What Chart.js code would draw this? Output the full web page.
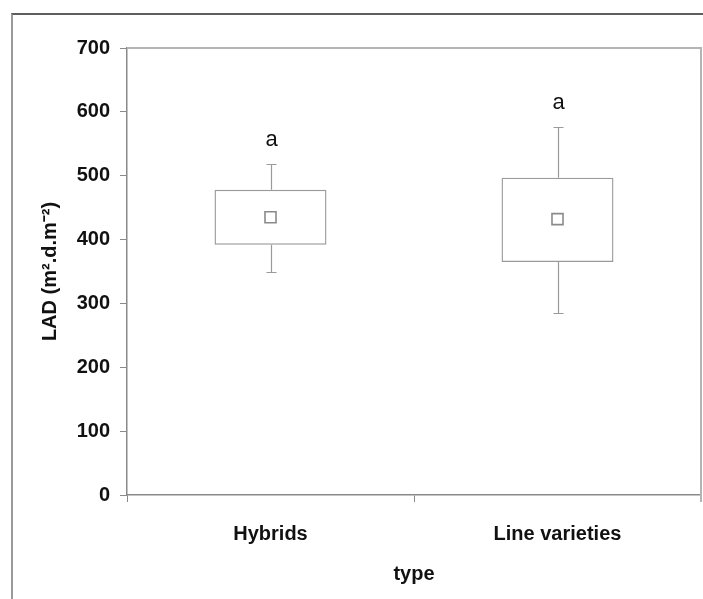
<!DOCTYPE html>
<html>
<head>
<meta charset="utf-8">
<script src="https://cdn.jsdelivr.net/npm/chart.js@4/dist/chart.umd.min.js"></script>
<style>
  html, body { margin: 0; padding: 0; background: #fff; }
  #wrap { position: relative; width: 703px; height: 599px; }
  #frame {
    position: absolute; left: 11px; top: 13px; right: -5px; bottom: -5px;
    border-left: 2px solid #9a9a9a; border-top: 2px solid #5e5e5e;
  }
  canvas { position: absolute; left: 0; top: 0; }
</style>
</head>
<body>
<div id="wrap">
  <div id="frame"></div>
  <canvas id="chart" width="703" height="599"></canvas>
</div>
<script>
// box plot values
const categories = ["Hybrids", "Line varieties"]
const minVals = [349, 285]
const q1Vals = [392, 365]
const meanVals = [435, 432]
const q3Vals = [478, 497]
const maxVals = [518, 577]
const letters = ["a", "a"]
const yTicks = [0, 100, 200, 300, 400, 500, 600, 700]

const gray = "#9a9a9a"
const axisGray = "#8a8a8a"
const font = "'Liberation Sans', Arial, sans-serif"

// whiskers, caps and significance letters
const whiskerPlugin = {
  id: "whiskers",
  afterDatasetsDraw(chart) {
    const ctx = chart.ctx
    const y = chart.scales.y
    const meta = chart.getDatasetMeta(0)
    ctx.save()
    ctx.strokeStyle = gray
    ctx.lineWidth = 1.2
    meta.data.forEach((bar, i) => {
      const x = Math.round(bar.x) + 0.5
      const segs = [[q3Vals[i], maxVals[i]], [q1Vals[i], minVals[i]]]
      segs.forEach(([from, to]) => {
        const y1 = y.getPixelForValue(from)
        const y2 = Math.round(y.getPixelForValue(to)) + 0.5
        ctx.beginPath()
        ctx.moveTo(x, y1)
        ctx.lineTo(x, y2)
        ctx.moveTo(x - 5, y2)
        ctx.lineTo(x + 5, y2)
        ctx.stroke()
      })
      ctx.fillStyle = "#111"
      ctx.font = "22px " + font
      ctx.textAlign = "center"
      ctx.textBaseline = "alphabetic"
      ctx.fillText(letters[i], x, y.getPixelForValue(maxVals[i]) - 18)
    })
    ctx.restore()
  }
}

// top and right edges of the plot area
const framePlugin = {
  id: "plotFrame",
  beforeDatasetsDraw(chart) {
    const { ctx, chartArea: a } = chart
    ctx.save()
    ctx.strokeStyle = "#b4b4b4"
    ctx.lineWidth = 2
    ctx.beginPath()
    ctx.moveTo(a.left, a.top)
    ctx.lineTo(a.right, a.top)
    ctx.lineTo(a.right, a.bottom + 7)
    ctx.stroke()
    ctx.restore()
  }
}

new Chart(document.getElementById("chart"), {
  data: {
    labels: categories,
    datasets: [
      {
        type: "bar",
        order: 2,
        data: q1Vals.map((q, i) => [q, q3Vals[i]]),
        backgroundColor: "#fff",
        borderColor: gray,
        borderWidth: 1.4,
        borderSkipped: false,
        categoryPercentage: 1,
        barPercentage: 0.39
      },
      {
        type: "line",
        order: 1,
        data: meanVals,
        showLine: false,
        pointStyle: "rect",
        pointRadius: 7.8,
        pointBackgroundColor: "#fff",
        pointBorderColor: "#8a8a8a",
        pointBorderWidth: 1.6
      }
    ]
  },
  options: {
    responsive: false,
    animation: false,
    layout: { autoPadding: false, padding: { top: 48, right: 2, left: 0, bottom: 0 } },
    plugins: { legend: { display: false }, tooltip: { enabled: false } },
    scales: {
      x: {
        offset: true,
        grid: { offset: true, drawOnChartArea: false, tickLength: 7, color: axisGray },
        border: { color: axisGray, width: 1.5 },
        ticks: { color: "#111", font: { family: font, size: 20, weight: "bold" }, padding: 20 },
        title: { display: true, text: "type", color: "#111", font: { family: font, size: 20, weight: "bold" }, padding: { top: 0, bottom: 13 } },
        afterFit(scale) {
          scale.height = 104
          scale.paddingLeft = 0
          scale.paddingRight = 0
        }
      },
      y: {
        min: 0,
        max: 700,
        afterBuildTicks(scale) { scale.ticks = yTicks.map(v => ({ value: v })) },
        grid: { drawOnChartArea: false, tickLength: 7, color: axisGray },
        border: { color: axisGray, width: 1.5 },
        ticks: { color: "#111", font: { family: font, size: 20, weight: "bold" }, padding: 10 },
        title: { display: true, text: "LAD (m².d.m⁻²)", color: "#111", font: { family: font, size: 20, weight: "bold" }, padding: { top: 38, bottom: 0 } },
        afterFit(scale) { scale.width = 127 }
      }
    }
  },
  plugins: [framePlugin, whiskerPlugin]
})
</script>
</body>
</html>
